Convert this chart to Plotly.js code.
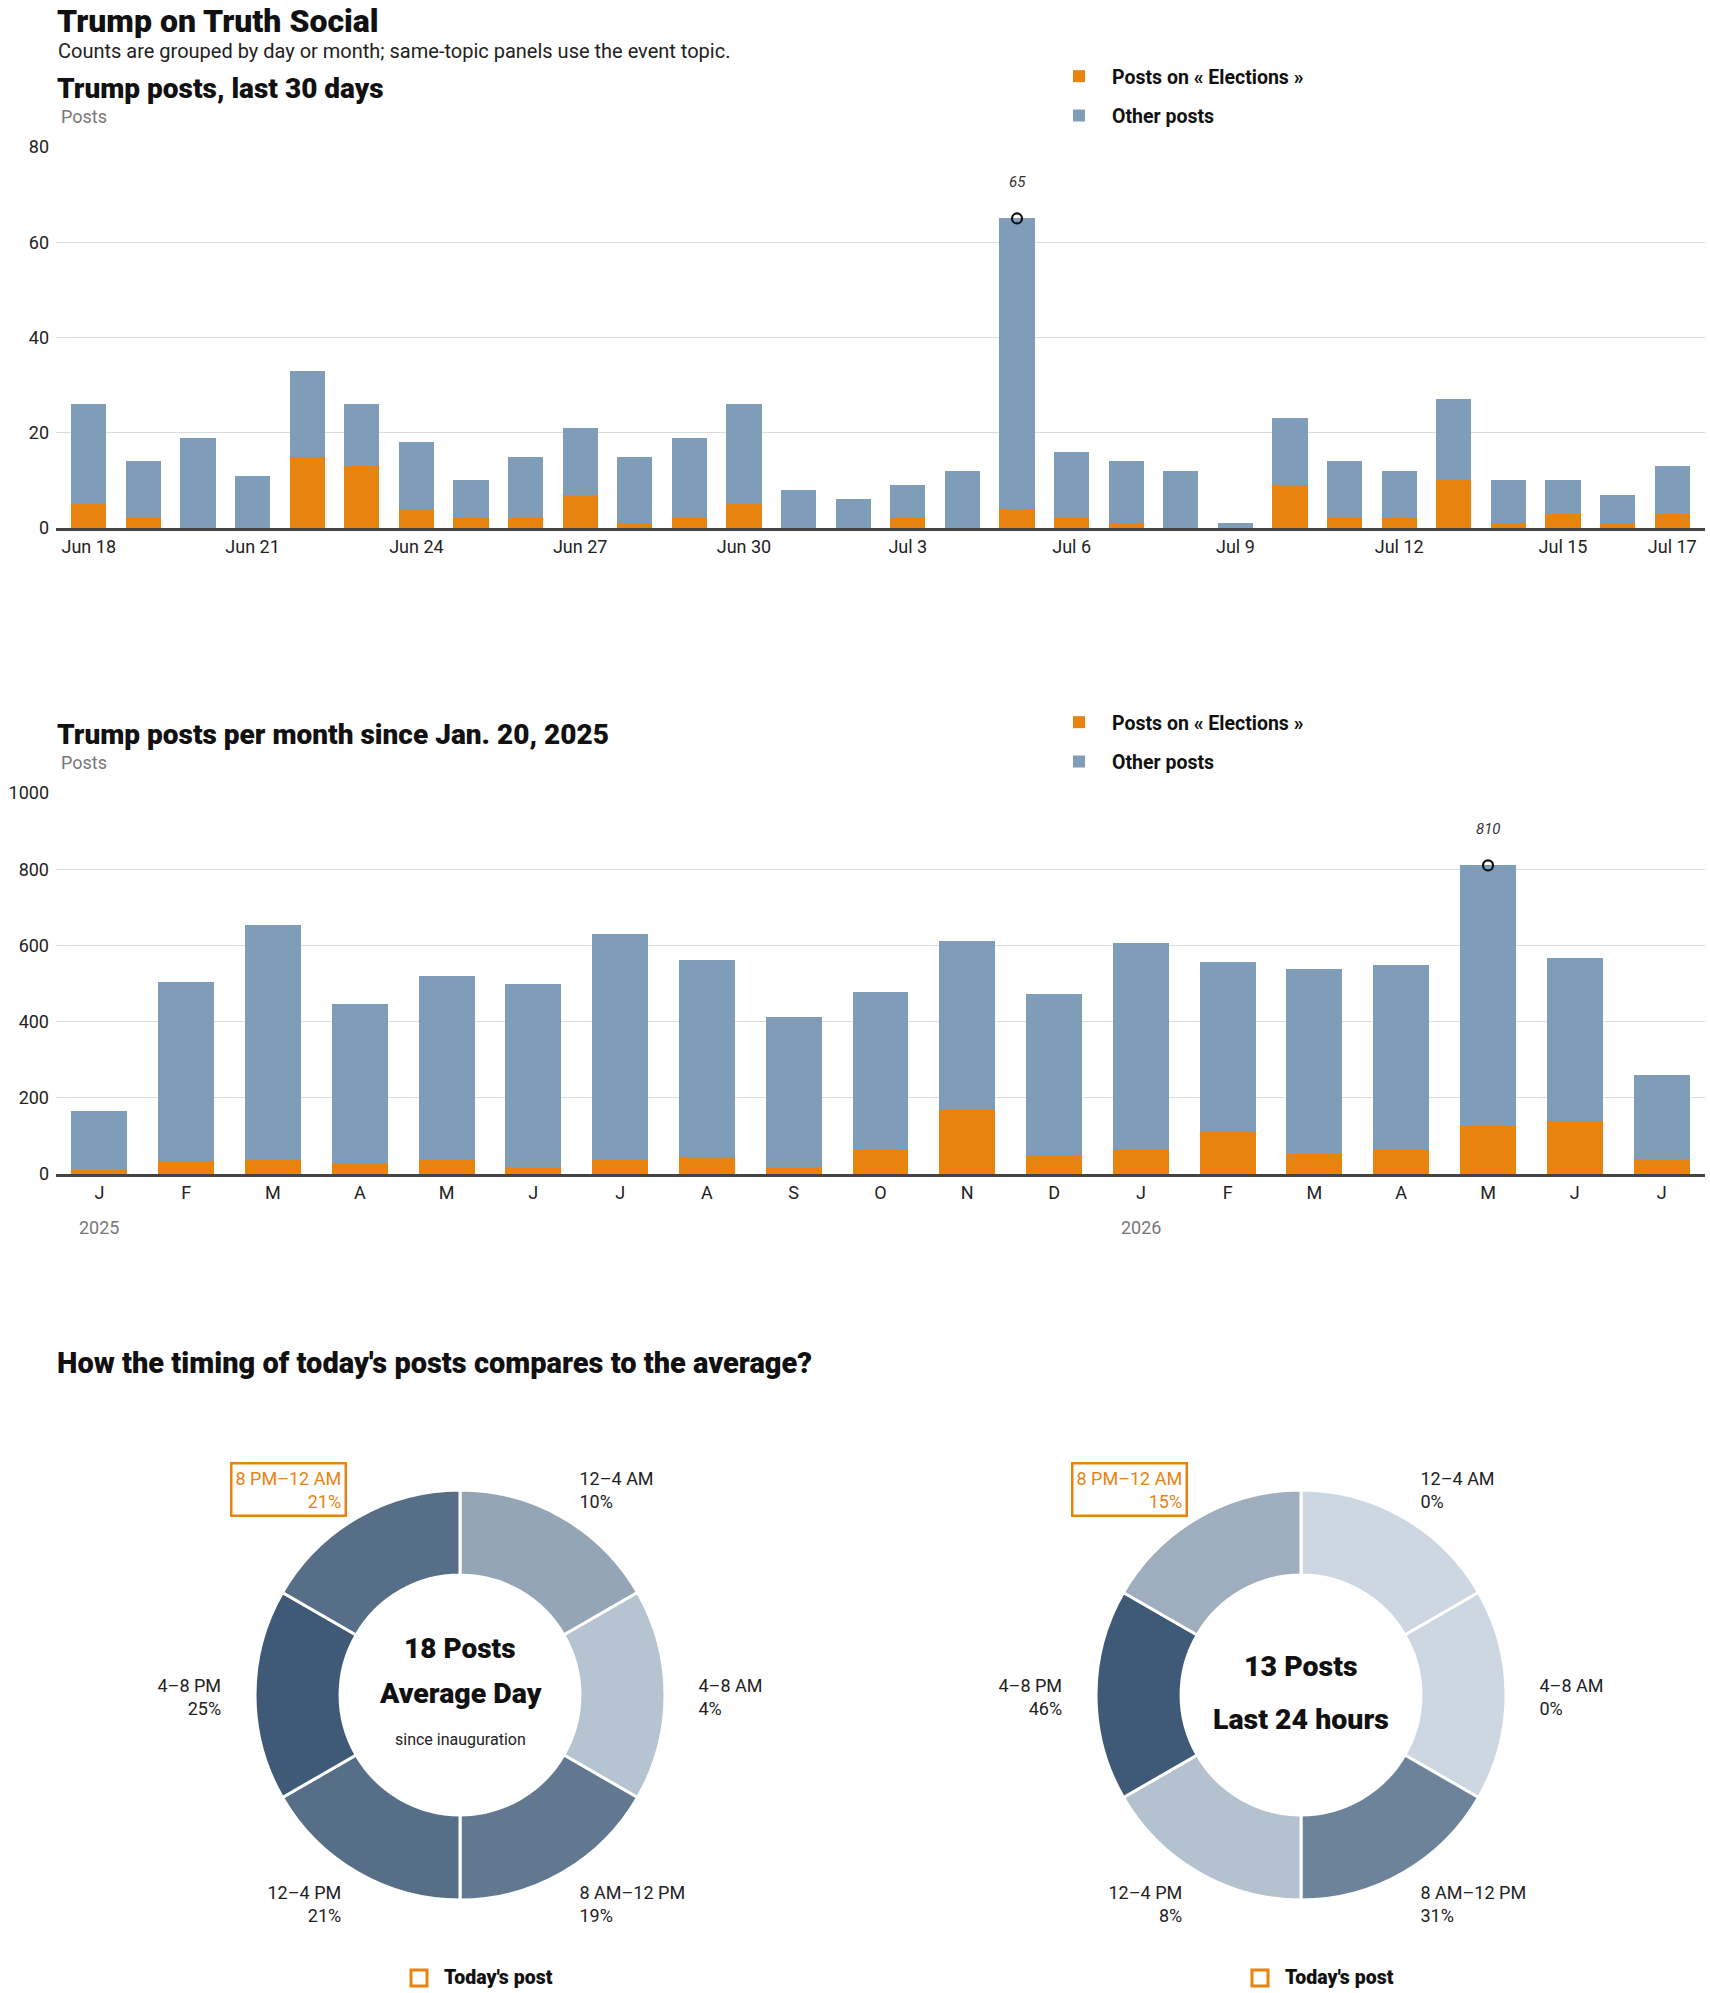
<!DOCTYPE html>
<html>
<head>
<meta charset="utf-8">
<script src="https://cdn.plot.ly/plotly-3.0.1.min.js"></script>
<style>
body { margin: 0; background: #fff; }
#chart { width: 1710px; height: 1993px; }
</style>
</head>
<body>
<div id="chart"></div>
<script>
// daily counts, last 30 days
var days = ['Jun 18', 'Jun 19', 'Jun 20', 'Jun 21', 'Jun 22', 'Jun 23', 'Jun 24', 'Jun 25', 'Jun 26', 'Jun 27',
    'Jun 28', 'Jun 29', 'Jun 30', 'Jul 1', 'Jul 2', 'Jul 3', 'Jul 4', 'Jul 5', 'Jul 6', 'Jul 7',
    'Jul 8', 'Jul 9', 'Jul 10', 'Jul 11', 'Jul 12', 'Jul 13', 'Jul 14', 'Jul 15', 'Jul 16', 'Jul 17'];
var dayTicks = ['Jun 18', 'Jun 21', 'Jun 24', 'Jun 27', 'Jun 30', 'Jul 3', 'Jul 6', 'Jul 9', 'Jul 12', 'Jul 15', 'Jul 17'];
var electionDaily = [5, 2, 0, 0, 15, 13, 4, 2, 2, 7, 1, 2, 5, 0, 0, 2, 0, 4, 2, 1, 0, 0, 9, 2, 2, 10, 1, 3, 1, 3];
var otherDaily = [21, 12, 19, 11, 18, 13, 14, 8, 13, 14, 14, 17, 21, 8, 6, 7, 12, 61, 14, 13, 12, 1, 14, 12, 10, 17, 9, 7, 6, 10];

// monthly counts since inauguration
var months = ['2025-01', '2025-02', '2025-03', '2025-04', '2025-05', '2025-06', '2025-07', '2025-08', '2025-09', '2025-10',
    '2025-11', '2025-12', '2026-01', '2026-02', '2026-03', '2026-04', '2026-05', '2026-06', '2026-07'];
var monthTicks = ['J', 'F', 'M', 'A', 'M', 'J', 'J', 'A', 'S', 'O', 'N', 'D', 'J', 'F', 'M', 'A', 'M', 'J', 'J'];
var electionMonthly = [10, 34, 37, 30, 37, 18, 37, 45, 18, 63, 169, 51, 63, 109, 53, 63, 126, 139, 39];
var otherMonthly = [155, 470, 617, 417, 483, 481, 593, 517, 394, 414, 443, 422, 544, 447, 485, 486, 684, 429, 221];
var yearStarts = ['2025-01', '2026-01'];
var yearLabels = ['2025', '2026'];

// time of day
var hourBins = ['12–4 AM', '4–8 AM', '8 AM–12 PM', '12–4 PM', '4–8 PM', '8 PM–12 AM'];
var binHours = [4, 4, 4, 4, 4, 4];
var avgShare = [10, 4, 19, 21, 25, 21];
var todayShare = [0, 0, 31, 8, 46, 15];
var todayBin = '8 PM–12 AM';

var W = 1710, H = 1993;
function px(x) { return x / W; }
function py(y) { return 1 - y / H; }

var ORANGE = '#e8830f';
var BLUE = '#7f9db9';
var FONT = 'Roboto, "Liberation Sans", Arial, sans-serif';
var INK = '#111';

function sum(a, b) { return a.map(function (v, i) { return v + b[i]; }); }
var totalDaily = sum(electionDaily, otherDaily);
var totalMonthly = sum(electionMonthly, otherMonthly);
function argmax(a) { return a.indexOf(Math.max.apply(null, a)); }
var peakDay = argmax(totalDaily);
var peakMonth = argmax(totalMonthly);

// light -> dark by share of the busiest bin
function shade(shares) {
    var top = Math.max.apply(null, shares);
    var lo = [205, 215, 225], hi = [63, 90, 118];
    return shares.map(function (s) {
        var t = s / top;
        return 'rgb(' + lo.map(function (c, k) { return Math.round(c + (hi[k] - c) * t); }).join(',') + ')';
    });
}

var data = [
    { type: 'bar', x: days, y: electionDaily, name: 'Posts on « Elections »', marker: { color: ORANGE },
      xaxis: 'x', yaxis: 'y', legend: 'legend', legendgroup: 'a', hoverinfo: 'skip' },
    { type: 'bar', x: days, y: otherDaily, name: 'Other posts', marker: { color: BLUE },
      xaxis: 'x', yaxis: 'y', legend: 'legend', legendgroup: 'b', hoverinfo: 'skip' },
    { type: 'scatter', mode: 'markers', x: [days[peakDay]], y: [totalDaily[peakDay]], xaxis: 'x', yaxis: 'y',
      marker: { symbol: 'circle-open', size: 10, color: INK, line: { width: 2.2 } }, showlegend: false, hoverinfo: 'skip' },

    { type: 'bar', x: months, y: electionMonthly, name: 'Posts on « Elections »', marker: { color: ORANGE },
      xaxis: 'x2', yaxis: 'y2', legend: 'legend2', legendgroup: 'c', hoverinfo: 'skip' },
    { type: 'bar', x: months, y: otherMonthly, name: 'Other posts', marker: { color: BLUE },
      xaxis: 'x2', yaxis: 'y2', legend: 'legend2', legendgroup: 'd', hoverinfo: 'skip' },
    { type: 'scatter', mode: 'markers', x: [months[peakMonth]], y: [totalMonthly[peakMonth]], xaxis: 'x2', yaxis: 'y2',
      marker: { symbol: 'circle-open', size: 10, color: INK, line: { width: 2.2 } }, showlegend: false, hoverinfo: 'skip' },

    { type: 'pie', values: binHours, labels: hourBins, hole: 0.585, sort: false, direction: 'clockwise', rotation: 0,
      textinfo: 'none', hoverinfo: 'skip', showlegend: false,
      marker: { colors: shade(avgShare), line: { color: '#fff', width: 3 } },
      domain: { x: [px(255), px(665)], y: [py(1900), py(1490)] } },
    { type: 'pie', values: binHours, labels: hourBins, hole: 0.585, sort: false, direction: 'clockwise', rotation: 0,
      textinfo: 'none', hoverinfo: 'skip', showlegend: false,
      marker: { colors: shade(todayShare), line: { color: '#fff', width: 3 } },
      domain: { x: [px(1096), px(1506)], y: [py(1900), py(1490)] } }
];

function text(str, x, y, size, opts) {
    opts = opts || {};
    return {
        text: str, xref: 'paper', yref: 'paper', x: px(x), y: py(y),
        xanchor: opts.xanchor || 'left', yanchor: opts.yanchor || 'middle', align: opts.align || 'left', showarrow: false,
        font: { family: FONT, size: size, color: opts.color || INK, weight: opts.weight || 'normal', style: opts.style || 'normal' }
    };
}

var annotations = [
    text('Trump on Truth Social', 55, 0, 32, { weight: 900, yanchor: 'top' }),
    text('Counts are grouped by day or month; same-topic panels use the event topic.', 56, 51, 20, { color: '#222' }),
    text('Trump posts, last 30 days', 55, 88, 28, { weight: 900 }),
    text('Posts', 59, 116, 18, { color: '#777' }),
    text('Trump posts per month since Jan. 20, 2025', 55, 734, 28, { weight: 900 }),
    text('Posts', 59, 762, 18, { color: '#777' }),
    text("How the timing of today's posts compares to the average?", 55, 1363, 29, { weight: 900 }),

    { text: String(totalDaily[peakDay]), xref: 'x', yref: 'y', x: days[peakDay], y: totalDaily[peakDay], yshift: 36,
      showarrow: false, font: { family: FONT, size: 15, color: '#333', style: 'italic' } },
    { text: String(totalMonthly[peakMonth]), xref: 'x2', yref: 'y2', x: months[peakMonth], y: totalMonthly[peakMonth], yshift: 36,
      showarrow: false, font: { family: FONT, size: 15, color: '#333', style: 'italic' } },

    // donut centres
    text('18 Posts', 460, 1648, 28, { xanchor: 'center', weight: 900 }),
    text('Average Day', 460, 1693, 28.5, { xanchor: 'center', weight: 900 }),
    text('since inauguration', 460, 1739, 16, { xanchor: 'center', color: '#222' }),
    text('13 Posts', 1301, 1666, 28.5, { xanchor: 'center', weight: 900 }),
    text('Last 24 hours', 1301, 1719, 28.5, { xanchor: 'center', weight: 900 }),

    text("Today's post", 442, 1977, 19.5, { weight: 900 }),
    text("Today's post", 1283, 1977, 19.5, { weight: 900 })
];

yearStarts.forEach(function (m, i) {
    annotations.push({ text: yearLabels[i], xref: 'x2', yref: 'paper', x: m, y: py(1227), yanchor: 'middle',
        showarrow: false, font: { family: FONT, size: 18, color: '#777' } });
});

// label offsets from each donut centre: [dx, dy, side]
var labelPos = [[114, -206, 'left'], [233, 1, 'left'], [114, 208, 'left'],
    [-113, 208, 'right'], [-233, 1, 'right'], [-113, -206, 'right']];
[[460, avgShare], [1301, todayShare]].forEach(function (d) {
    hourBins.forEach(function (bin, i) {
        var p = labelPos[i];
        var hot = bin === todayBin;
        annotations.push({
            text: bin + '<br>' + d[1][i] + '%', xref: 'paper', yref: 'paper',
            x: px(d[0] + p[0]), y: py(1695 + p[1]), xanchor: p[2], yanchor: 'middle', align: p[2],
            showarrow: false, borderpad: 3, borderwidth: 2.5,
            bordercolor: hot ? ORANGE : 'rgba(0,0,0,0)',
            font: { family: FONT, size: 18, color: hot ? ORANGE : '#222' }
        });
    });
});

var shapes = [419, 1260].map(function (cx) {
    return { type: 'rect', xref: 'paper', yref: 'paper', x0: px(cx - 8), x1: px(cx + 8), y0: py(1986), y1: py(1970),
        line: { color: ORANGE, width: 3 }, fillcolor: 'rgba(0,0,0,0)' };
});

var legendStyle = function (top) {
    return { x: px(1046), y: py(top), xanchor: 'left', yanchor: 'top', orientation: 'v', traceorder: 'grouped',
        tracegroupgap: 11, itemwidth: 56, bgcolor: 'rgba(0,0,0,0)', itemclick: false, itemdoubleclick: false,
        font: { family: FONT, size: 19.5, color: INK, weight: 'bold' } };
};

var yax = function (top, bottom, max, dtick) {
    return { domain: [py(bottom), py(top)], range: [0, max], dtick: dtick, showgrid: true, gridcolor: '#dcdcdc',
        gridwidth: 1, zeroline: false, showline: false, ticks: '', ticklabelstandoff: 6, fixedrange: true,
        tickfont: { family: FONT, size: 18, color: '#222' } };
};

var layout = {
    width: W,
    height: H,
    margin: { l: 0, r: 0, t: 0, b: 0 },
    paper_bgcolor: '#fff',
    plot_bgcolor: '#fff',
    barmode: 'stack',
    bargap: 0.355,
    font: { family: FONT },
    xaxis: { domain: [px(56), px(1705)], anchor: 'y', type: 'category', range: [-0.6, 29.6],
        tickmode: 'array', tickvals: dayTicks, ticktext: dayTicks, tickangle: 0, ticks: '',
        showgrid: false, showline: true, linecolor: '#444', linewidth: 3, fixedrange: true,
        tickfont: { family: FONT, size: 18, color: '#222' } },
    yaxis: yax(147, 528, 80, 20),
    xaxis2: { domain: [px(56), px(1705)], anchor: 'y2', type: 'category', range: [-0.5, 18.5],
        tickmode: 'array', tickvals: months, ticktext: monthTicks, tickangle: 0, ticks: '',
        showgrid: false, showline: true, linecolor: '#444', linewidth: 3, fixedrange: true,
        tickfont: { family: FONT, size: 18, color: '#222' } },
    yaxis2: yax(793, 1174, 1000, 200),
    legend: legendStyle(57),
    legend2: legendStyle(703),
    annotations: annotations,
    shapes: shapes
};

Plotly.newPlot('chart', data, layout, { displayModeBar: false, responsive: false });
</script>
</body>
</html>
